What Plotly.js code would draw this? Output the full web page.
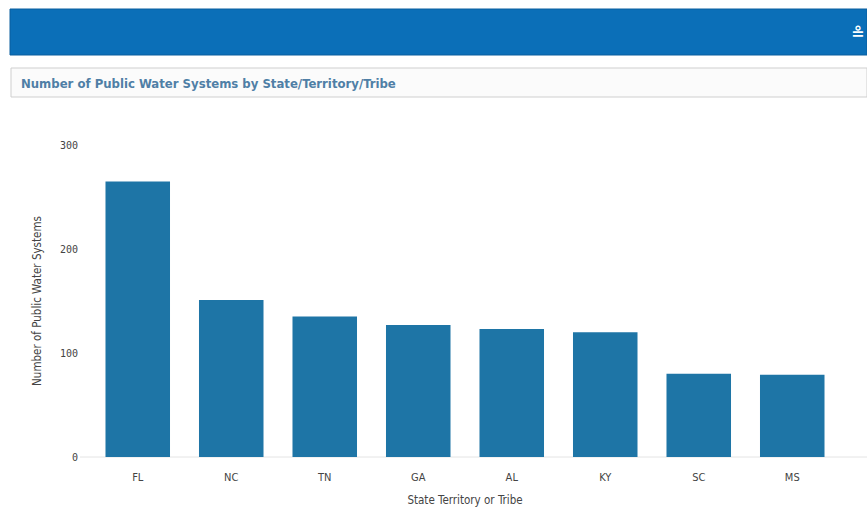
<!DOCTYPE html>
<html>
<head>
<meta charset="utf-8">
<script src="https://cdn.plot.ly/plotly-3.0.1.min.js"></script>
<style>html,body{margin:0;padding:0;background:#fff;}#chart{width:867px;height:519px;}</style>
</head>
<body>
<div id="chart"></div>
<script>
const states = ["FL", "NC", "TN", "GA", "AL", "KY", "SC", "MS"];
const systemCounts = [265, 151, 135, 127, 123, 120, 80, 79];
const yTickValues = [0, 100, 200, 300];
const yTickLabels = ["0", "100", "200", "300"];
const chartTitle = "Number of Public Water Systems by State/Territory/Tribe";
const xAxisTitle = "State Territory or Tribe";
const yAxisTitle = "Number of Public Water Systems";

// plot area geometry in pixels (used to place the page decorations)
const W = 867, H = 519;
const mL = 91, mR = 28, mT = 145, mB = 62;
const pw = W - mL - mR, ph = H - mT - mB;
const px = x => (x - mL) / pw;
const py = y => (H - mB - y) / ph;

const trace = {
  type: "bar",
  x: states,
  y: systemCounts,
  marker: {color: "#1e75a6", line: {width: 0}},
  hoverinfo: "x+y"
};

const layout = {
  width: W, height: H,
  margin: {l: mL, r: mR, t: mT, b: mB},
  paper_bgcolor: "#ffffff",
  plot_bgcolor: "#ffffff",
  showlegend: false,
  bargap: 0.31,
  xaxis: {
    type: "category",
    showgrid: false,
    zeroline: false,
    showline: false,
    ticks: "",
    ticklabelstandoff: 12,
    tickfont: {family: "DejaVu Sans Condensed, DejaVu Sans", size: 11, color: "#444"},
    title: {text: xAxisTitle, font: {family: "DejaVu Sans Condensed, DejaVu Sans", size: 11.5, color: "#444"}, standoff: 12}
  },
  yaxis: {
    range: [0, 300],
    tickvals: yTickValues,
    ticktext: yTickLabels,
    showgrid: false,
    zeroline: false,
    showline: false,
    ticks: "",
    ticklabelstandoff: 12,
    tickfont: {family: "DejaVu Sans Mono", size: 10, color: "#444"},
    title: {text: yAxisTitle, font: {family: "DejaVu Sans Condensed, DejaVu Sans", size: 11.5, color: "#444"}, standoff: 15}
  },
  shapes: [
    // faint baseline
    {type: "line", xref: "paper", yref: "paper", x0: px(80), x1: px(867), y0: 0, y1: 0,
     line: {color: "#e4e4e4", width: 1}, layer: "below"},
    // header band
    {type: "rect", xref: "paper", yref: "paper", x0: px(10), x1: px(867), y0: py(55), y1: py(9),
     fillcolor: "#0b6fb8", line: {color: "#0a5f9e", width: 1}},
    // title box
    {type: "rect", xref: "paper", yref: "paper", x0: px(11), x1: px(867), y0: py(97), y1: py(68),
     fillcolor: "#fbfbfb", line: {color: "#cfcfcf", width: 1}}
  ],
  annotations: [
    {xref: "paper", yref: "paper", x: px(19), y: py(83), xanchor: "left", yanchor: "middle",
     text: "<b>" + chartTitle + "</b>", showarrow: false,
     font: {family: "DejaVu Sans Condensed, DejaVu Sans", size: 13, color: "#4f7fa6"}},
    {xref: "paper", yref: "paper", x: px(866), y: py(34), xanchor: "right", yanchor: "middle",
     text: "<b>≗</b>", showarrow: false,
     font: {family: "DejaVu Sans", size: 16, color: "#ffffff"}}
  ]
};

Plotly.newPlot("chart", [trace], layout, {displayModeBar: false, staticPlot: true});
</script>
</body>
</html>
